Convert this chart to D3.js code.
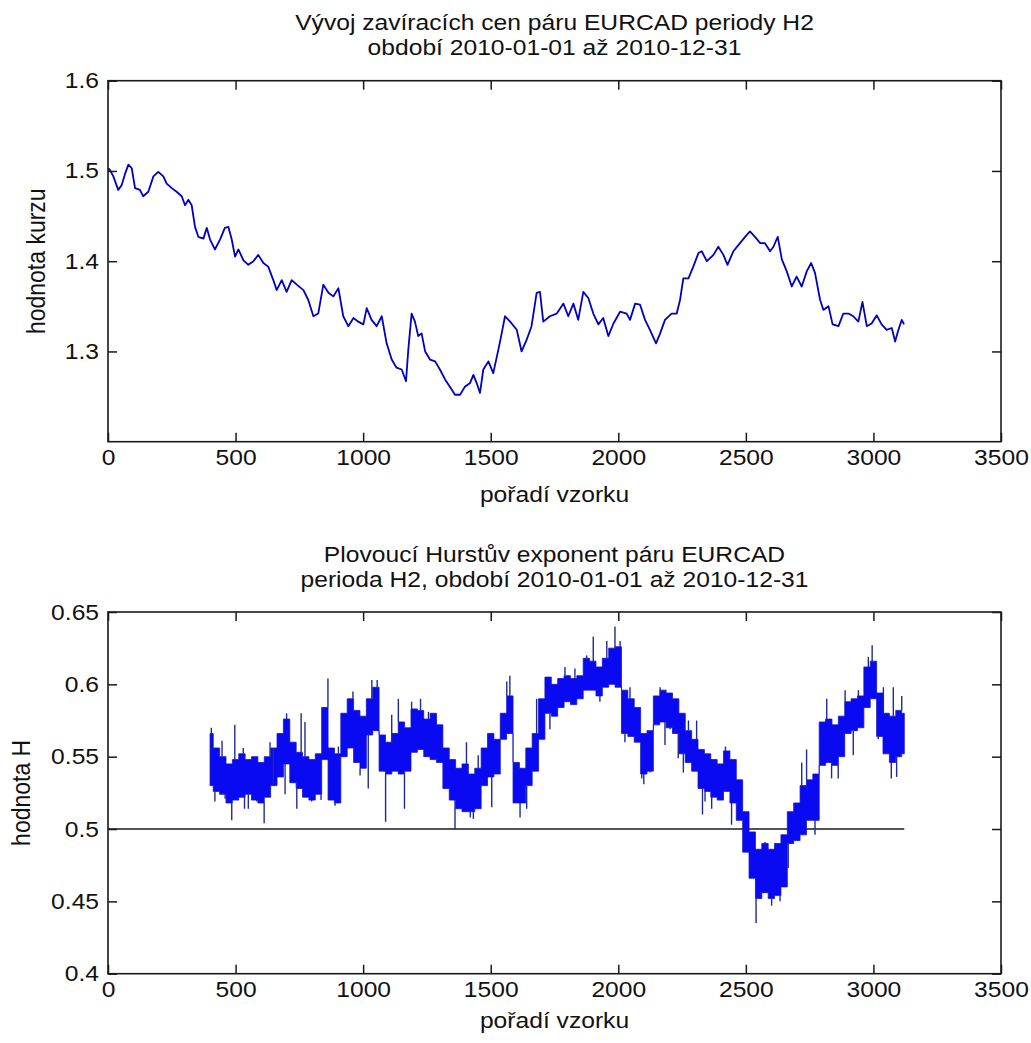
<!DOCTYPE html>
<html>
<head>
<meta charset="utf-8">
<script src="https://cdn.jsdelivr.net/npm/d3@7"></script>
<style>
  body { margin: 0; background: #fff; }
  svg { display: block; }
  text { font-family: "Liberation Sans", Arial, sans-serif; fill: #111; }
</style>
</head>
<body>
<div id="container"></div>
<script>
/* DATA */
const xTicks = [0, 500, 1000, 1500, 2000, 2500, 3000, 3500]
const priceTicks = [1.3, 1.4, 1.5, 1.6]
const hurstTicks = [0.4, 0.45, 0.5, 0.55, 0.6, 0.65]
const priceTitle = ["Vývoj zavíracích cen páru EURCAD periody H2", "období 2010-01-01 až 2010-12-31"]
const hurstTitle = ["Plovoucí Hurstův exponent páru EURCAD", "perioda H2, období 2010-01-01 až 2010-12-31"]
const xLabel = "pořadí vzorku"
const priceLabel = "hodnota kurzu"
const hurstLabel = "hodnota H"

// closing price [sample, value]
const price = [
  [0, 1.503], [8, 1.501], [21, 1.494], [40, 1.479], [53, 1.484], [67, 1.497], [80, 1.507], [93, 1.503],
  [106, 1.481], [125, 1.479], [138, 1.472], [158, 1.477], [178, 1.494], [197, 1.499], [217, 1.494],
  [230, 1.486], [250, 1.481], [269, 1.477], [289, 1.472], [302, 1.462], [315, 1.468], [328, 1.462],
  [341, 1.438], [354, 1.427], [374, 1.425], [387, 1.437], [400, 1.424], [419, 1.413], [439, 1.424],
  [458, 1.437], [472, 1.438], [485, 1.424], [498, 1.405], [511, 1.413], [531, 1.401], [550, 1.396],
  [570, 1.400], [589, 1.407], [609, 1.398], [628, 1.394], [648, 1.379], [661, 1.368], [681, 1.379],
  [700, 1.366], [720, 1.379], [740, 1.374], [766, 1.368], [785, 1.357], [805, 1.339], [824, 1.342],
  [844, 1.374], [864, 1.365], [883, 1.361], [903, 1.370], [922, 1.339], [942, 1.328], [962, 1.337],
  [981, 1.333], [1001, 1.330], [1014, 1.348], [1033, 1.335], [1053, 1.328], [1073, 1.339], [1092, 1.309],
  [1112, 1.291], [1131, 1.282], [1151, 1.280], [1168, 1.267], [1177, 1.302], [1190, 1.342], [1203, 1.333],
  [1216, 1.317], [1229, 1.320], [1243, 1.300], [1262, 1.291], [1282, 1.289], [1301, 1.280], [1321, 1.269],
  [1340, 1.261], [1360, 1.252], [1380, 1.252], [1399, 1.261], [1419, 1.265], [1432, 1.274], [1445, 1.265],
  [1458, 1.254], [1471, 1.280], [1491, 1.289], [1510, 1.276], [1530, 1.302], [1543, 1.320], [1556, 1.339],
  [1576, 1.333], [1602, 1.324], [1621, 1.300], [1641, 1.313], [1660, 1.328], [1680, 1.365], [1693, 1.366],
  [1706, 1.333], [1732, 1.339], [1759, 1.342], [1785, 1.353], [1804, 1.339], [1824, 1.353], [1843, 1.335],
  [1863, 1.366], [1883, 1.359], [1902, 1.342], [1922, 1.330], [1941, 1.337], [1961, 1.317], [1981, 1.331],
  [2007, 1.344], [2033, 1.342], [2046, 1.335], [2066, 1.353], [2085, 1.352], [2105, 1.335], [2124, 1.324],
  [2148, 1.309], [2164, 1.320], [2183, 1.335], [2209, 1.342], [2229, 1.342], [2242, 1.357], [2255, 1.381],
  [2275, 1.381], [2294, 1.394], [2314, 1.409], [2327, 1.411], [2347, 1.400], [2373, 1.407], [2392, 1.416],
  [2412, 1.407], [2428, 1.396], [2451, 1.411], [2477, 1.420], [2497, 1.427], [2516, 1.433], [2536, 1.427],
  [2556, 1.420], [2575, 1.420], [2595, 1.411], [2608, 1.416], [2625, 1.427], [2641, 1.402], [2660, 1.389],
  [2680, 1.372], [2699, 1.383], [2719, 1.372], [2739, 1.389], [2756, 1.398], [2771, 1.387], [2791, 1.357],
  [2804, 1.346], [2824, 1.350], [2840, 1.330], [2863, 1.328], [2882, 1.342], [2902, 1.342], [2921, 1.339],
  [2941, 1.333], [2957, 1.355], [2974, 1.328], [2993, 1.331], [3013, 1.340], [3032, 1.330], [3052, 1.324],
  [3072, 1.326], [3085, 1.311], [3098, 1.324], [3111, 1.335], [3120, 1.330]
]

// moving Hurst exponent, dense band read as [sample, low, high]
const hurstBand = [
  [400, 0.530, 0.566], [425, 0.526, 0.556], [450, 0.524, 0.550], [475, 0.518, 0.545], [500, 0.520, 0.548],
  [525, 0.522, 0.552], [550, 0.524, 0.548], [575, 0.520, 0.550], [600, 0.518, 0.546], [625, 0.522, 0.550],
  [650, 0.530, 0.556], [675, 0.536, 0.566], [700, 0.545, 0.576], [725, 0.532, 0.560], [750, 0.528, 0.553],
  [775, 0.522, 0.550], [800, 0.520, 0.548], [825, 0.524, 0.552], [850, 0.548, 0.584], [875, 0.520, 0.556],
  [900, 0.518, 0.552], [925, 0.550, 0.580], [950, 0.556, 0.590], [975, 0.546, 0.582], [1000, 0.542, 0.578],
  [1025, 0.565, 0.590], [1050, 0.568, 0.598], [1075, 0.540, 0.565], [1100, 0.538, 0.560], [1125, 0.540, 0.566],
  [1150, 0.538, 0.574], [1175, 0.540, 0.570], [1200, 0.553, 0.583], [1225, 0.555, 0.582], [1250, 0.550, 0.576],
  [1275, 0.548, 0.580], [1300, 0.546, 0.572], [1325, 0.528, 0.556], [1350, 0.520, 0.548], [1375, 0.514, 0.542],
  [1400, 0.512, 0.545], [1425, 0.512, 0.538], [1450, 0.514, 0.542], [1475, 0.530, 0.556], [1500, 0.536, 0.566],
  [1525, 0.538, 0.562], [1550, 0.562, 0.580], [1575, 0.566, 0.592], [1600, 0.518, 0.546], [1625, 0.518, 0.542],
  [1650, 0.530, 0.556], [1675, 0.540, 0.566], [1700, 0.562, 0.590], [1725, 0.580, 0.605], [1750, 0.578, 0.600],
  [1775, 0.584, 0.604], [1800, 0.588, 0.606], [1825, 0.586, 0.604], [1850, 0.590, 0.606], [1875, 0.596, 0.618],
  [1900, 0.596, 0.616], [1925, 0.592, 0.612], [1950, 0.598, 0.618], [1975, 0.600, 0.625], [2000, 0.598, 0.626],
  [2025, 0.566, 0.596], [2050, 0.564, 0.590], [2075, 0.560, 0.584], [2100, 0.538, 0.566], [2125, 0.540, 0.568],
  [2150, 0.572, 0.592], [2175, 0.574, 0.596], [2200, 0.570, 0.594], [2225, 0.566, 0.590], [2250, 0.552, 0.580],
  [2275, 0.546, 0.568], [2300, 0.540, 0.562], [2325, 0.528, 0.555], [2350, 0.526, 0.552], [2375, 0.522, 0.548],
  [2400, 0.520, 0.545], [2425, 0.526, 0.554], [2450, 0.518, 0.548], [2475, 0.506, 0.534], [2500, 0.484, 0.512],
  [2525, 0.466, 0.498], [2550, 0.452, 0.486], [2575, 0.456, 0.490], [2600, 0.452, 0.486], [2625, 0.454, 0.490],
  [2650, 0.460, 0.496], [2675, 0.490, 0.512], [2700, 0.492, 0.518], [2725, 0.496, 0.530], [2750, 0.506, 0.534],
  [2775, 0.506, 0.538], [2800, 0.544, 0.574], [2825, 0.546, 0.576], [2850, 0.544, 0.572], [2875, 0.550, 0.578],
  [2900, 0.566, 0.588], [2925, 0.568, 0.590], [2950, 0.570, 0.592], [2975, 0.584, 0.612], [3000, 0.590, 0.616],
  [3025, 0.564, 0.594], [3050, 0.552, 0.580], [3075, 0.546, 0.578], [3100, 0.550, 0.582], [3121, 0.552, 0.580]
]

// single-sample spikes sticking out of the band [sample, value]
const hurstSpikes = [
  [405, 0.570], [419, 0.519], [447, 0.561], [459, 0.521], [485, 0.506], [497, 0.572], [530, 0.556],
  [535, 0.514], [550, 0.514], [583, 0.519], [612, 0.504], [635, 0.560], [648, 0.556], [694, 0.524],
  [700, 0.580], [740, 0.514], [757, 0.580], [772, 0.574], [798, 0.519], [835, 0.520], [862, 0.604],
  [890, 0.516], [903, 0.557], [960, 0.595], [988, 0.537], [1020, 0.528], [1034, 0.603], [1055, 0.603],
  [1088, 0.505], [1112, 0.579], [1138, 0.590], [1162, 0.514], [1190, 0.588], [1225, 0.590], [1256, 0.581],
  [1314, 0.528], [1360, 0.500], [1393, 0.512], [1405, 0.560], [1420, 0.508], [1432, 0.507], [1451, 0.551],
  [1504, 0.515], [1563, 0.602], [1575, 0.606], [1615, 0.508], [1641, 0.514], [1680, 0.590], [1732, 0.569],
  [1791, 0.612], [1830, 0.611], [1876, 0.620], [1902, 0.633], [1928, 0.588], [1955, 0.630], [1987, 0.640],
  [2007, 0.630], [2026, 0.560], [2046, 0.598], [2092, 0.535], [2100, 0.531], [2124, 0.539], [2164, 0.598],
  [2183, 0.558], [2203, 0.569], [2235, 0.549], [2255, 0.539], [2275, 0.575], [2307, 0.575], [2330, 0.510],
  [2340, 0.519], [2366, 0.514], [2392, 0.521], [2420, 0.557], [2444, 0.503], [2540, 0.435], [2575, 0.491],
  [2601, 0.447], [2634, 0.450], [2666, 0.473], [2719, 0.546], [2738, 0.555], [2771, 0.496], [2817, 0.590],
  [2836, 0.535], [2862, 0.535], [2889, 0.596], [2921, 0.551], [2941, 0.596], [2980, 0.619], [2995, 0.627],
  [3019, 0.562], [3039, 0.598], [3070, 0.535], [3078, 0.598], [3091, 0.536], [3111, 0.592]
]

const hurstRef = 0.5
const lastSample = 3121

/* CONSTANTS */
const width = 1031, height = 1043
const stretch = 1.12 // the source picture is a bit wider than tall

const svg = d3.select("#container")
  .append("svg")
  .attr("width", width)
  .attr("height", height)

const xScale = d3.scaleLinear()
  .domain([0, 3500])
  .range([108, 1001])

function drawPanel(p) {
  const yScale = d3.scaleLinear()
    .domain(p.domain)
    .range([p.bottom, p.top])

  const g = svg.append("g")

  // plot content goes under the box
  const content = g.append("g")
  p.draw(content, yScale)

  // box
  g.append("rect")
    .attr("x", xScale(0))
    .attr("y", p.top)
    .attr("width", xScale(3500) - xScale(0))
    .attr("height", p.bottom - p.top)
    .attr("fill", "none")
    .attr("stroke", "#1a1a1a")
    .attr("stroke-width", 1.6)

  // AXES, matlab style ticks pointing inward on all four sides
  const axes = [
    { ax: d3.axisBottom(xScale).tickValues(xTicks).tickFormat(d => d), tr: `translate(0,${p.bottom})` },
    { ax: d3.axisTop(xScale).tickValues(xTicks).tickFormat(""), tr: `translate(0,${p.top})` },
    { ax: d3.axisLeft(yScale).tickValues(p.ticks).tickFormat(d => d), tr: `translate(${xScale(0)},0)` },
    { ax: d3.axisRight(yScale).tickValues(p.ticks).tickFormat(""), tr: `translate(${xScale(3500)},0)` }
  ]
  axes.forEach(a => {
    const ag = g.append("g")
      .attr("transform", a.tr)
      .call(a.ax.tickSize(-9).tickPadding(8))
    ag.select(".domain").remove()
    ag.selectAll(".tick line").attr("stroke", "#1a1a1a").attr("stroke-width", 1.5)
    ag.selectAll(".tick text")
      .attr("fill", "#111")
      .style("font-family", '"Liberation Sans", Arial, sans-serif')
      .style("font-size", "22px")
      .attr("transform", `scale(${stretch},1)`)
  })

  const cx = (xScale(0) + xScale(3500)) / 2

  // titles
  p.title.forEach((t, i) => {
    g.append("text")
      .attr("transform", `translate(${cx},${p.titleBase + i * 25}) scale(${stretch},1)`)
      .attr("text-anchor", "middle")
      .style("font-size", "22px")
      .text(t)
  })

  // x label
  g.append("text")
    .attr("transform", `translate(${cx},${p.xLabelBase}) scale(${stretch},1)`)
    .attr("text-anchor", "middle")
    .style("font-size", "22px")
    .text(xLabel)

  // y label
  g.append("text")
    .attr("transform", `translate(${p.yLabelX},${(p.top + p.bottom) / 2}) rotate(-90) scale(1,${stretch})`)
    .attr("text-anchor", "middle")
    .style("font-size", "23px")
    .text(p.yLabel)
}

// TOP PANEL: closing price
drawPanel({
  domain: [1.2, 1.6], ticks: priceTicks,
  top: 80.7, bottom: 441.7,
  title: priceTitle, titleBase: 30, xLabelBase: 502,
  yLabel: priceLabel, yLabelX: 45,
  draw: (g, yScale) => {
    const lineGen = d3.line()
      .x(d => xScale(d[0]))
      .y(d => yScale(d[1]))
    g.append("path")
      .datum(price)
      .attr("d", lineGen)
      .attr("fill", "none")
      .attr("stroke", "#0000c0")
      .attr("stroke-width", 1.8)
      .attr("stroke-linejoin", "round")
  }
})

// BOTTOM PANEL: moving Hurst exponent
drawPanel({
  domain: [0.4, 0.65], ticks: hurstTicks,
  top: 612, bottom: 973.7,
  title: hurstTitle, titleBase: 562, xLabelBase: 1028,
  yLabel: hurstLabel, yLabelX: 30,
  draw: (g, yScale) => {
    // reference line H = 0.5
    g.append("line")
      .attr("x1", xScale(0))
      .attr("x2", xScale(lastSample))
      .attr("y1", yScale(hurstRef))
      .attr("y2", yScale(hurstRef))
      .attr("stroke", "#1a1a1a")
      .attr("stroke-width", 1.6)

    const areaGen = d3.area()
      .x(d => xScale(d[0]))
      .y0(d => yScale(d[1]))
      .y1(d => yScale(d[2]))
      .curve(d3.curveStep)

    g.append("path")
      .datum(hurstBand)
      .attr("d", areaGen)
      .attr("fill", "#0a0af2")
      .attr("stroke", "#1414c8")
      .attr("stroke-width", 0.8)

    // spikes drawn from the nearest band edge
    g.selectAll(".spike")
      .data(hurstSpikes)
      .join("line")
      .attr("class", "spike")
      .attr("x1", d => xScale(d[0]))
      .attr("x2", d => xScale(d[0]))
      .attr("y1", d => {
        const b = hurstBand[Math.min(hurstBand.length - 1, Math.round((d[0] - 400) / 25))]
        return yScale(d[1] > b[2] ? b[2] : b[1])
      })
      .attr("y2", d => yScale(d[1]))
      .attr("stroke", "#1e2a99")
      .attr("stroke-width", 1.4)
  }
})
</script>
</body>
</html>
